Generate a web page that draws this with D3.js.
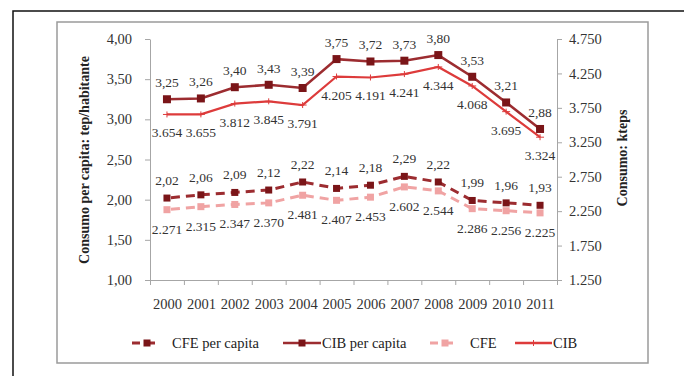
<!DOCTYPE html>
<html><head><meta charset="utf-8">
<script src="https://cdn.jsdelivr.net/npm/d3@7/dist/d3.min.js"></script>
<style>body{margin:0;background:#fff}svg{display:block}text{font-family:"Liberation Serif","DejaVu Serif",serif}</style>
</head><body><svg id="c" width="684" height="376"></svg>
<script>
const years = ["2000","2001","2002","2003","2004","2005","2006","2007","2008","2009","2010","2011"];
const cibPerCapita = [3.25,3.26,3.40,3.43,3.39,3.75,3.72,3.73,3.80,3.53,3.21,2.88];
const cfePerCapita = [2.02,2.06,2.09,2.12,2.22,2.14,2.18,2.29,2.22,1.99,1.96,1.93];
const cfe = [2271,2315,2347,2370,2481,2407,2453,2602,2544,2286,2256,2225];
const cib = [3654,3655,3812,3845,3791,4205,4191,4241,4344,4068,3695,3324];
const leftTicks = [1.00,1.50,2.00,2.50,3.00,3.50,4.00];
const rightTicks = [1250,1750,2250,2750,3250,3750,4250,4750];
const seriesNames = ["CFE per capita","CIB per capita","CFE","CIB"];

const loc = d3.formatLocale({decimal:",",thousands:".",grouping:[3],currency:["",""]});
const f2 = loc.format(".2f"), fk = loc.format(",.0f");

const svg = d3.select("#c");
const dark = "#7a1518", darkLine = "#9c2c30", red = "#dd3b3b", pink = "#f0a3a3", txt = "#333";

// frames
svg.append("path").attr("d","M13,376V11H684").attr("fill","none").attr("stroke","#111").attr("stroke-width",1.5);
svg.append("rect").attr("x",57).attr("y",22).attr("width",591).attr("height",341).attr("fill","#fff").attr("stroke","#9a9a9a").attr("stroke-width",1.5);

const x = d3.scalePoint().domain(years).range([150,557]).padding(0.5);
const xb = d3.scaleLinear().domain([0,12]).range([150,557]);
const yL = d3.scaleLinear().domain([1,4]).range([280,39]);
const yR = d3.scaleLinear().domain([1250,4750]).range([280,39]);

function styleAxis(g){g.selectAll("path,line").attr("stroke","#a6a6a6");g.selectAll("text").attr("fill",txt).style("font-size","14.5px");}

svg.append("g").attr("transform","translate(150,0)")
  .call(d3.axisLeft(yL).tickValues(leftTicks).tickFormat(f2).tickSize(5).tickSizeOuter(0).tickPadding(13))
  .call(styleAxis);
svg.append("g").attr("transform","translate(557,0)")
  .call(d3.axisRight(yR).tickValues(rightTicks).tickFormat(fk).tickSize(5).tickSizeOuter(0).tickPadding(7))
  .call(styleAxis);
svg.append("g").attr("transform","translate(0,280)")
  .call(d3.axisBottom(xb).tickValues(d3.range(13)).tickFormat("").tickSize(5).tickSizeOuter(0))
  .call(styleAxis);
svg.append("g").attr("transform","translate(0,280)")
  .call(d3.axisBottom(x).tickSize(0).tickPadding(19))
  .call(g=>g.select(".domain").remove())
  .call(styleAxis);

// axis titles
svg.append("text").attr("transform","translate(89,160) rotate(-90)").attr("text-anchor","middle")
  .style("font-size","14px").style("font-weight","bold").attr("fill","#222").text("Consumo per capita: tep/habitante");
svg.append("text").attr("transform","translate(627,158) rotate(-90)").attr("text-anchor","middle")
  .style("font-size","14px").style("font-weight","bold").attr("fill","#222").text("Consumo: kteps");

const idx = d3.range(years.length);
function line(vals, y){return d3.line().x(i=>x(years[i])).y(i=>y(vals[i]))(idx);}

// CFE (right, pink dashed)
svg.append("path").attr("d",line(cfe,yR)).attr("fill","none").attr("stroke",pink).attr("stroke-width",3).attr("stroke-dasharray","9,6").attr("stroke-dashoffset",-4);
svg.selectAll(".mcfe").data(idx).join("rect").attr("x",i=>x(years[i])-3.5).attr("y",i=>yR(cfe[i])-3.5).attr("width",7).attr("height",7).attr("fill",pink);
// CFE per capita (dark dashed)
svg.append("path").attr("d",line(cfePerCapita,yL)).attr("fill","none").attr("stroke",darkLine).attr("stroke-width",3).attr("stroke-dasharray","9,6").attr("stroke-dashoffset",-4);
svg.selectAll(".mcfp").data(idx).join("rect").attr("x",i=>x(years[i])-3.5).attr("y",i=>yL(cfePerCapita[i])-3.5).attr("width",7).attr("height",7).attr("fill",dark);
// CIB (right, red)
svg.append("path").attr("d",line(cib,yR)).attr("fill","none").attr("stroke",red).attr("stroke-width",2.2);
svg.selectAll(".mcib").data(idx).join("path").attr("d",i=>{const px=x(years[i]),py=yR(cib[i]);return `M${px-4},${py}H${px+4}M${px},${py-3}V${py+3}`;}).attr("stroke",red).attr("stroke-width",1);
// CIB per capita (dark solid)
svg.append("path").attr("d",line(cibPerCapita,yL)).attr("fill","none").attr("stroke",darkLine).attr("stroke-width",2.6);
svg.selectAll(".mcibp").data(idx).join("rect").attr("x",i=>x(years[i])-4).attr("y",i=>yL(cibPerCapita[i])-4).attr("width",8).attr("height",8).attr("fill",dark);

// data labels
function labels(vals,y,fmt,dy){
  svg.append("g").selectAll("text").data(idx).join("text")
    .attr("x",i=>x(years[i])).attr("y",i=>y(vals[i])+dy).attr("text-anchor","middle")
    .style("font-size","13.5px").attr("fill",txt).text(i=>fmt(vals[i]));
}
labels(cibPerCapita,yL,f2,-12);
labels(cib,yR,fk,23);
labels(cfePerCapita,yL,f2,-13);
labels(cfe,yR,fk,24);

// legend
const ly = 343;
const leg = svg.append("g");
function legItem(x0,x1,color,mcolor,dashed,marker,label){
  leg.append("line").attr("x1",x0).attr("x2",x1).attr("y1",ly).attr("y2",ly).attr("stroke",color)
    .attr("stroke-width",dashed?3:2.4).attr("stroke-dasharray",dashed?"8,7":null);
  const cx=(x0+x1)/2;
  if(marker==="sq") leg.append("rect").attr("x",cx-3.5).attr("y",ly-3.5).attr("width",7).attr("height",7).attr("fill",mcolor);
  else leg.append("path").attr("d",`M${cx-4},${ly}H${cx+4}M${cx},${ly-3}V${ly+3}`).attr("stroke",mcolor).attr("stroke-width",1);
  leg.append("text").attr("x",x1+ (dashed?10:1)).attr("y",ly+5).style("font-size","14.5px").attr("fill","#222").text(label);
}
legItem(132,162,darkLine,dark,true,"sq",seriesNames[0]);
legItem(283,321,darkLine,dark,false,"sq",seriesNames[1]);
legItem(430,460,pink,pink,true,"sq",seriesNames[2]);
legItem(515,552,red,red,false,"plus",seriesNames[3]);
</script></body></html>
